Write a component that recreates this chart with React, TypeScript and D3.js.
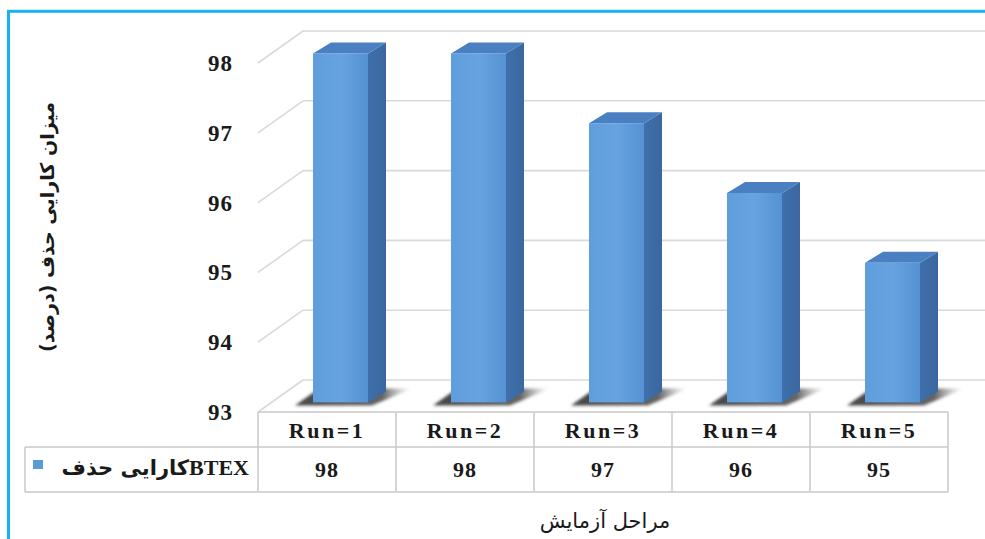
import React from "react";
import * as d3 from "d3";

// Removal efficiency of BTEX over successive test runs
const runs: string[] = ["Run=1", "Run=2", "Run=3", "Run=4", "Run=5"];
const efficiency: number[] = [98, 98, 97, 96, 95];
const yTicks: number[] = [93, 94, 95, 96, 97, 98];
const seriesLabel = "کارایی حذف";
const seriesTag = "BTEX";
const yTitle = "میزان کارایی حذف (درصد)";
const xTitle = "مراحل آزمایش";

const W = 985;
const H = 539;

// 3D frame: front plane, wall depth offset and bar depth offset
const left = 258;
const right = 948;
const wallDx = 45;
const wallDy = -32;
const barInset = 0.3; // fraction of the wall depth where the bar front sits
const barDx = 18;
const barDy = -11;
const barWidth = 55;

const headerTop = 412;
const rowMid = 447;
const rowBottom = 492;
const legendLeft = 25;

const serif = "'Liberation Serif', 'Times New Roman', serif";
const persian = "'DejaVu Sans', 'Noto Sans', sans-serif";

export default function App() {
  const y = d3.scaleLinear().domain([93, 98]).range([412, 63]);
  const x = d3.scaleBand<string>().domain(runs).range([left, right]).padding(0);
  const bw = x.bandwidth();
  const base = y.domain()[0];

  const gridColor = "#d9d9d9";
  const tableColor = "#c9c9c9";

  const bars = runs.map((r, i) => {
    const v = efficiency[i];
    const cx = (x(r) as number) + bw / 2 + barInset * wallDx;
    const x0 = cx - barWidth / 2;
    const x1 = cx + barWidth / 2;
    const top = y(v) + barInset * wallDy;
    const bottom = y(base) + barInset * wallDy;
    return { r, v, x0, x1, top, bottom };
  });

  const pts = (p: [number, number][]) => p.map((q) => q.join(",")).join(" ");

  return (
    <svg
      width={W}
      height={H}
      style={{ position: "absolute", left: 0, top: 0, background: "#fff" }}
    >
      <defs>
        <linearGradient id="front" x1="0" x2="1" y1="0" y2="0">
          <stop offset="0" stopColor="#5f9ddc" />
          <stop offset="0.5" stopColor="#67a3e0" />
          <stop offset="1" stopColor="#5592d3" />
        </linearGradient>
        <linearGradient id="side" x1="0" x2="1" y1="0" y2="0">
          <stop offset="0" stopColor="#3f70ab" />
          <stop offset="1" stopColor="#3a679f" />
        </linearGradient>
        <linearGradient id="shadow" x1="0" x2="1" y1="0" y2="0">
          <stop offset="0" stopColor="#222" stopOpacity="0.85" />
          <stop offset="0.75" stopColor="#333" stopOpacity="0.75" />
          <stop offset="1" stopColor="#888" stopOpacity="0" />
        </linearGradient>
        <filter id="soft" x="-20%" y="-50%" width="140%" height="200%">
          <feGaussianBlur stdDeviation="1.8" />
        </filter>
      </defs>

      {/* frame border */}
      <rect
        x={8.5}
        y={11.3}
        width={W + 40}
        height={H + 40}
        fill="none"
        stroke="#1ab2f2"
        strokeWidth={3}
      />

      {/* back wall gridlines and side wall diagonals */}
      {yTicks.map((t) => (
        <g key={t}>
          <line
            x1={left + wallDx}
            x2={W}
            y1={y(t) + wallDy}
            y2={y(t) + wallDy}
            stroke={gridColor}
            strokeWidth={1.6}
          />
          <line
            x1={left}
            y1={y(t)}
            x2={left + wallDx}
            y2={y(t) + wallDy}
            stroke={gridColor}
            strokeWidth={1.6}
          />
        </g>
      ))}

      {/* y tick labels */}
      {yTicks.map((t) => (
        <text
          key={`l${t}`}
          x={233}
          y={y(t)}
          dy="0.35em"
          textAnchor="end"
          fontFamily={serif}
          fontWeight="bold"
          fontSize={23}
          letterSpacing={1}
          fill="#1a1a1a"
        >
          {t}
        </text>
      ))}

      {/* bars with floor shadows */}
      {bars.map((b) => (
        <g key={b.r}>
          <polygon
            points={pts([
              [b.x0 - 18, b.bottom + 3],
              [b.x1 + 4, b.bottom + 3],
              [b.x1 + 44, b.bottom - 14],
              [b.x0 + 6, b.bottom - 14],
            ])}
            fill="url(#shadow)"
            filter="url(#soft)"
          />
          <polygon
            points={pts([
              [b.x1, b.top],
              [b.x1 + barDx, b.top + barDy],
              [b.x1 + barDx, b.bottom + barDy],
              [b.x1, b.bottom],
            ])}
            fill="url(#side)"
          />
          <polygon
            points={pts([
              [b.x0, b.top],
              [b.x0 + barDx, b.top + barDy],
              [b.x1 + barDx, b.top + barDy],
              [b.x1, b.top],
            ])}
            fill="#4a80c2"
          />
          <rect
            x={b.x0}
            y={b.top}
            width={b.x1 - b.x0}
            height={b.bottom - b.top}
            fill="url(#front)"
          />
        </g>
      ))}

      {/* data table */}
      <g stroke={tableColor} strokeWidth={1.5}>
        <line x1={left} x2={right} y1={headerTop} y2={headerTop} />
        <line x1={legendLeft} x2={right} y1={rowMid} y2={rowMid} />
        <line x1={legendLeft} x2={right} y1={rowBottom} y2={rowBottom} />
        <line x1={legendLeft} x2={legendLeft} y1={rowMid} y2={rowBottom} />
        {runs.map((r) => (
          <line
            key={`v${r}`}
            x1={x(r) as number}
            x2={x(r) as number}
            y1={headerTop}
            y2={rowBottom}
          />
        ))}
        <line x1={right} x2={right} y1={headerTop} y2={rowBottom} />
      </g>
      {runs.map((r, i) => (
        <g key={`t${r}`}>
          <text
            x={(x(r) as number) + bw / 2}
            y={(headerTop + rowMid) / 2 + 1}
            dy="0.35em"
            textAnchor="middle"
            fontFamily={serif}
            fontWeight="bold"
            fontSize={22}
            letterSpacing={2.5}
            fill="#1a1a1a"
          >
            {r}
          </text>
          <text
            x={(x(r) as number) + bw / 2}
            y={(rowMid + rowBottom) / 2}
            dy="0.35em"
            textAnchor="middle"
            fontFamily={serif}
            fontWeight="bold"
            fontSize={22}
            letterSpacing={1}
            fill="#1a1a1a"
          >
            {efficiency[i]}
          </text>
        </g>
      ))}

      {/* legend key inside the table */}
      <rect x={33} y={460} width={10} height={9} fill="#5b9bd5" />
      <text
        x={249}
        y={(rowMid + rowBottom) / 2}
        dy="0.35em"
        textAnchor="end"
        fontWeight="bold"
        fill="#1a1a1a"
      >
        <tspan fontFamily={persian} fontSize={21}>
          {seriesLabel}
        </tspan>
        <tspan fontFamily={serif} fontSize={22}>
          {seriesTag}
        </tspan>
      </text>

      {/* axis titles */}
      <text
        transform={`translate(47, 227) rotate(-90)`}
        textAnchor="middle"
        dy="0.35em"
        fontFamily={persian}
        fontWeight="bold"
        fontSize={19}
        fill="#1a1a1a"
      >
        {yTitle}
      </text>
      <text
        x={605}
        y={521}
        dy="0.35em"
        textAnchor="middle"
        fontFamily={persian}
        fontSize={21}
        fill="#1a1a1a"
      >
        {xTitle}
      </text>
    </svg>
  );
}
